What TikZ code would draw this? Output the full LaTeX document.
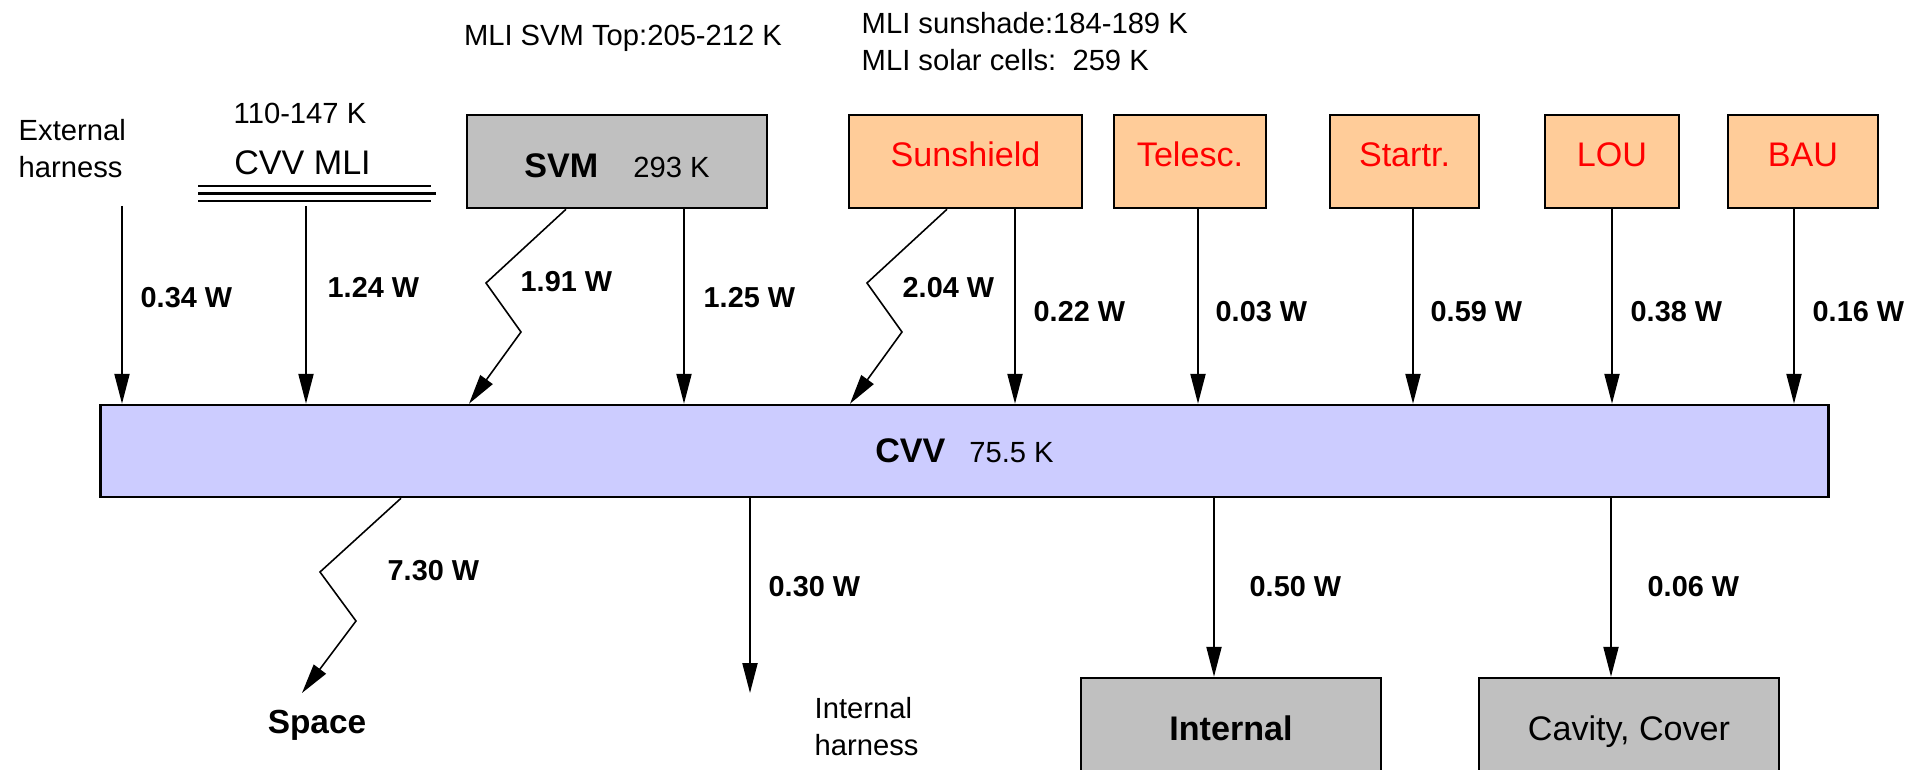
\documentclass[tikz,border=0pt]{standalone}
\usepackage{fontspec}
\setmainfont{Liberation Sans}
\usetikzlibrary{arrows.meta}

\definecolor{peach}{RGB}{255,204,153}
\definecolor{lilac}{RGB}{204,204,255}
\definecolor{boxgray}{RGB}{192,192,192}

\begin{document}
\begin{tikzpicture}[x=0.01cm,y=-0.01cm]

\tikzstyle{every node}=[font=\fontsize{8.3}{10.5}\selectfont]
\tikzstyle{unit}=[draw=black,line width=0.7pt,inner sep=0pt,minimum height=0.93cm,font=\fontsize{9.7}{12}\selectfont]
\tikzstyle{hot}=[unit,fill=peach,text=red,text height=7pt,text depth=4.2pt]
\tikzstyle{sink}=[unit,fill=boxgray,minimum width=3cm,text height=9pt,text depth=0pt]
\tikzstyle{flow}=[-{Triangle[length=8.5pt,width=4.3pt]},line width=0.45pt]
\tikzstyle{wlbl}=[anchor=west,inner sep=0pt,font=\fontsize{8.2}{10}\selectfont\bfseries]

\useasboundingbox (0,0) rectangle (1923,770);
\clip (0,0) rectangle (1923,770);

% boxes
\node [unit,fill=lilac,minimum width=17.27cm,minimum height=0.92cm] (cvv) at (964.5,451)
  {{\bfseries CVV}\hspace{6.8pt}{\fontsize{8.3}{10}\selectfont 75.5 K}};
\node [sink] (svm) at (617,161.5)
  {{\bfseries SVM}\hspace{10pt}{\fontsize{8.3}{10}\selectfont 293 K}};
\node [hot,minimum width=2.33cm] (sun) at (965.5,161.5) {Sunshield};
\node [hot,minimum width=1.52cm] (tel) at (1190,161.5) {Telesc.};
\node [hot,minimum width=1.49cm] (sta) at (1404.5,161.5) {Startr.};
\node [hot,minimum width=1.34cm] (lou) at (1612,161.5) {LOU};
\node [hot,minimum width=1.5cm] (bau) at (1803,161.5) {BAU};
\node [sink] (int) at (1231,724.5) {\bfseries Internal};
\node [sink] (cav) at (1629,724.5) {Cavity, Cover};

% texts
\node [anchor=west,align=left,inner sep=0pt] (ext) at (18,148.5) {External\\harness};
\node (mlitemp) at (300,113) {110-147 K};
\node [font=\fontsize{9.7}{12}\selectfont] (mli) at (302.5,163) {CVV MLI};
\draw [line width=0.6pt] (198,186) -- (431,186) (198,193.5) -- (436,193.5) (198,201) -- (431,201);
\node (svmtop) at (623,38) {MLI SVM Top:205-212 K};
\node [anchor=west,align=left,inner sep=0pt] (sunmli) at (861,41.5)
  {MLI sunshade:184-189 K\\MLI solar cells:\ \ 259 K};
\node [font=\fontsize{9.5}{12}\selectfont\bfseries] (space) at (317,725) {Space};
\node [anchor=west,align=left,inner sep=0pt] (inthar) at (814,726.5) {Internal\\harness};

% heat flows into CVV
\coordinate (hx) at (122,206);
\coordinate (mx) at (306,206);
\draw [flow] (hx) -- (hx |- cvv.north);
\draw [flow] (mx) -- (mx |- cvv.north);
\draw [flow] (566,0 |- svm.south) -- (486,283) -- (521,332) -- (469,0 |- cvv.north);
\draw [flow] (684,0 |- svm.south) -- (684,0 |- cvv.north);
\draw [flow] (947,0 |- sun.south) -- (867,283) -- (902,332) -- (850,0 |- cvv.north);
\foreach \n/\x in {sun/1015,tel/1198,sta/1413,lou/1612,bau/1794}
  \draw [flow] (\x,0 |- \n.south) -- (\x,0 |- cvv.north);

% heat flows out of CVV
\coordinate (spc) at (302,693);
\coordinate (ihx) at (750,693);
\draw [flow] (401,0 |- cvv.south) -- (320,572) -- (356,621) -- (spc);
\draw [flow] (ihx |- cvv.south) -- (ihx);
\draw [flow] (1214,0 |- cvv.south) -- (1214,0 |- int.north);
\draw [flow] (1611,0 |- cvv.south) -- (1611,0 |- cav.north);

% loads
\foreach \x/\y/\w [count=\i] in {140/298/0.34,327/287/1.24,520/282/1.91,703/298/1.25,
    902/288/2.04,1033/312/0.22,1215/312/0.03,1430/312/0.59,1630/312/0.38,1812/312/0.16,
    387/571/7.30,768/587/0.30,1249/587/0.50,1647/587/0.06}
  \node [wlbl] (w\i) at (\x,\y) {\w\ W};

\end{tikzpicture}
\end{document}
